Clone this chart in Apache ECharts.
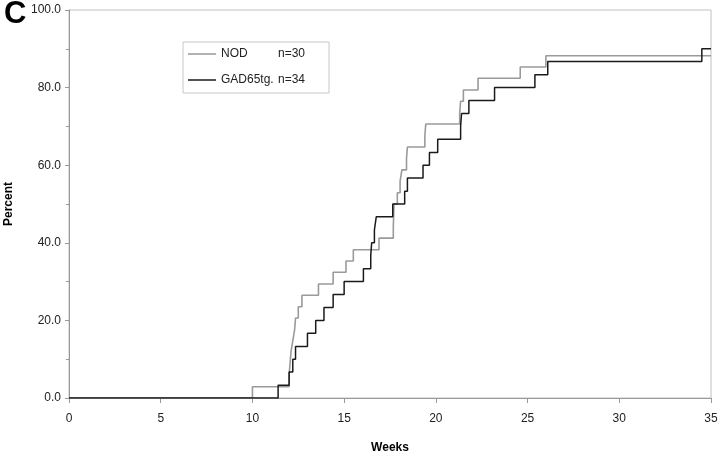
<!DOCTYPE html>
<html>
<head>
<meta charset="utf-8">
<script src="https://cdn.jsdelivr.net/npm/echarts@6/dist/echarts.min.js"></script>
<style>
  html, body { margin: 0; padding: 0; background: #fff; }
  #chart { width: 720px; height: 454px; }
</style>
</head>
<body>
<div id="chart"></div>
<script>
// NOD curve (light grey): week of each step, percent after it
const nodWeeks = [0, 10.0, 12.0, 12.05, 12.1, 12.2, 12.3, 12.35, 12.5, 12.7, 13.6, 14.4, 15.1, 15.5, 16.9,
  17.68, 17.7, 17.72, 17.9, 18.05, 18.15, 18.4, 18.45, 19.4, 19.45, 21.3, 21.35, 21.5, 22.3, 24.6, 26.0, 35]
const nodPct = [0, 2.9, 5.9, 8.8, 11.8, 14.7, 17.6, 20.6, 23.5, 26.5, 29.4, 32.4, 35.3, 38.2, 41.2,
  44.1, 47.1, 50.0, 52.9, 55.9, 58.8, 61.8, 64.7, 67.6, 70.6, 73.5, 76.5, 79.4, 82.4, 85.3, 88.2, 88.2]

// GAD65tg curve (black)
const gadWeeks = [0, 11.4, 12.0, 12.2, 12.35, 13.0, 13.45, 13.9, 14.4, 15.0, 16.05, 16.45, 16.5, 16.65, 16.75,
  17.65, 18.3, 18.45, 19.3, 19.65, 20.1, 21.35, 21.4, 21.8, 23.2, 25.4, 26.1, 34.5, 35]
const gadPct = [0, 3.3, 6.7, 10.0, 13.3, 16.7, 20.0, 23.3, 26.7, 30.0, 33.3, 36.7, 40.0, 43.3, 46.7,
  50.0, 53.3, 56.7, 60.0, 63.3, 66.7, 70.0, 73.3, 76.7, 80.0, 83.3, 86.7, 90.0, 90.0]

const legendN = { 'NOD': 'n=30', 'GAD65tg.': 'n=34' }

const font = 'Liberation Sans, Arial, sans-serif'

function pairs (xs, ys) {
  return xs.map((x, i) => [x, ys[i]])
}

const chart = echarts.init(document.getElementById('chart'))
chart.setOption({
  animation: false,
  backgroundColor: '#fff',
  title: {
    text: 'C',
    left: -1,
    top: -6,
    textStyle: { fontSize: 31, fontWeight: 'bold', color: '#000', fontFamily: font }
  },
  legend: {
    orient: 'vertical',
    left: 183,
    top: 42,
    padding: [6, 24, 7, 5],
    itemGap: 14,
    itemWidth: 28,
    itemHeight: 1.5,
    icon: 'rect',
    borderColor: '#c8c8c8',
    borderWidth: 1,
    data: ['NOD', 'GAD65tg.'],
    formatter: name => '{a|' + name + '}{b|' + legendN[name] + '}',
    textStyle: {
      fontFamily: font,
      fontSize: 12,
      color: '#222',
      rich: {
        a: { width: 57, fontSize: 12, fontFamily: font, color: '#222' },
        b: { fontSize: 12, fontFamily: font, color: '#222' }
      }
    }
  },
  grid: {
    left: 69,
    right: 9,
    top: 10,
    bottom: 56,
    outerBoundsMode: 'none',
    containLabel: false,
    show: true,
    borderColor: '#c0c0c0',
    borderWidth: 1
  },
  xAxis: {
    type: 'value',
    min: 0,
    max: 35,
    interval: 5,
    name: 'Weeks',
    nameLocation: 'middle',
    nameGap: 44,
    nameTextStyle: { fontFamily: font, fontSize: 12, fontWeight: 'bold', color: '#000' },
    axisLine: { lineStyle: { color: '#999', width: 1 } },
    axisTick: { show: true, length: 5, lineStyle: { color: '#999' } },
    axisLabel: { margin: 15, fontFamily: font, fontSize: 12, color: '#222' },
    splitLine: { show: false }
  },
  yAxis: {
    type: 'value',
    min: 0,
    max: 100,
    interval: 20,
    name: 'Percent',
    nameLocation: 'middle',
    nameGap: 54,
    nameTextStyle: { fontFamily: font, fontSize: 12, fontWeight: 'bold', color: '#000' },
    axisLine: { show: true, lineStyle: { color: '#999', width: 1 } },
    axisTick: { show: true, length: 4, lineStyle: { color: '#999' } },
    minorTick: { show: true, splitNumber: 2, length: 3, lineStyle: { color: '#999' } },
    axisLabel: {
      margin: 8,
      fontFamily: font,
      fontSize: 12,
      color: '#222',
      formatter: v => v.toFixed(1)
    },
    splitLine: { show: false }
  },
  series: [
    {
      name: 'NOD',
      type: 'line',
      step: 'end',
      symbol: 'none',
      data: pairs(nodWeeks, nodPct),
      lineStyle: { color: '#9a9a9a', width: 1.6 },
      itemStyle: { color: '#9a9a9a' }
    },
    {
      name: 'GAD65tg.',
      type: 'line',
      step: 'end',
      symbol: 'none',
      data: pairs(gadWeeks, gadPct),
      lineStyle: { color: '#1a1a1a', width: 1.5 },
      itemStyle: { color: '#1a1a1a' }
    }
  ]
})
</script>
</body>
</html>
